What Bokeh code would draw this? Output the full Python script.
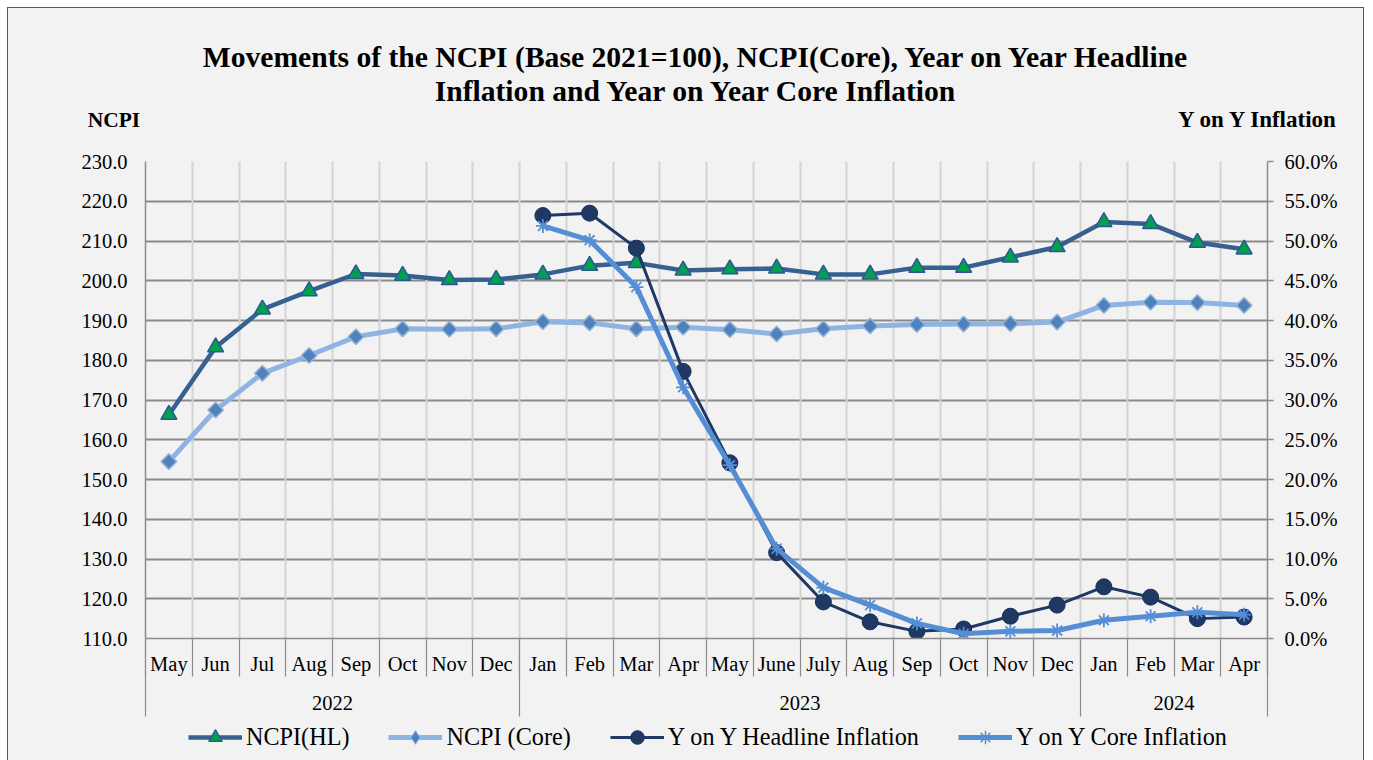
import math
from bokeh.plotting import figure
from bokeh.layouts import column
from bokeh.models import (Range1d, LinearAxis, FixedTicker, Grid, Legend, LegendItem, Div)
from bokeh.embed import file_html
from bokeh.resources import INLINE

# ---------------- data ----------------
months = ["May", "Jun", "Jul", "Aug", "Sep", "Oct", "Nov", "Dec",
          "Jan", "Feb", "Mar", "Apr", "May", "June", "July", "Aug", "Sep", "Oct", "Nov", "Dec",
          "Jan", "Feb", "Mar", "Apr"]
years = ["2022", "2023", "2024"]
year_counts = [8, 12, 4]

ncpi_hl = [166.3, 183.3, 192.8, 197.4, 201.7, 201.3, 200.2, 200.3,
           201.6, 203.8, 204.5, 202.6, 202.9, 203.1, 201.6, 201.6, 203.3, 203.3, 205.9, 208.5,
           214.8, 214.3, 209.6, 207.9]
ncpi_core = [154.5, 167.5, 176.7, 181.2, 185.9, 187.9, 187.8, 187.9,
             189.7, 189.4, 187.9, 188.3, 187.7, 186.6, 187.9, 188.6, 189.0, 189.1, 189.2, 189.6,
             193.8, 194.6, 194.5, 193.8]
NA = float("nan")
yoy_hl = [NA, NA, NA, NA, NA, NA, NA, NA,
          53.2, 53.5, 49.1, 33.6, 22.1, 10.8, 4.6, 2.1, 0.9, 1.2, 2.8, 4.2,
          6.5, 5.2, 2.5, 2.7]
yoy_core = [NA, NA, NA, NA, NA, NA, NA, NA,
            51.9, 50.1, 44.2, 31.6, 21.8, 11.3, 6.4, 4.2, 1.9, 0.6, 0.9, 1.0,
            2.3, 2.8, 3.3, 3.0]

series_names = ["NCPI(HL)", "NCPI (Core)", "Y on Y Headline Inflation", "Y on Y Core Inflation"]

left_ticks = [110, 120, 130, 140, 150, 160, 170, 180, 190, 200, 210, 220, 230]
right_ticks = [0, 5, 10, 15, 20, 25, 30, 35, 40, 45, 50, 55, 60]

title_line1 = "Movements of the NCPI (Base 2021=100), NCPI(Core), Year on Year Headline"
title_line2 = "Inflation and Year on Year Core Inflation"
left_title = "NCPI"
right_title = "Y on Y Inflation"

# ---------------- derived positions ----------------
n = len(months)
xs = list(range(n))
bounds = [i - 0.5 for i in range(n + 1)]
gb = [-0.5]
for c in year_counts:
    gb.append(gb[-1] + c)
gcenters = [(gb[i] + gb[i + 1]) / 2 for i in range(len(years))]

FONT = "Liberation Serif"
BG = "#F2F2F2"
AX = "#8C8C8C"
W = 1355

# ---------------- styles ----------------
line_styles = [dict(line_color="#36608F", line_width=4.5),
               dict(line_color="#8EB4E3", line_width=5),
               dict(line_color="#1F3864", line_width=3),
               dict(line_color="#558ED5", line_width=5)]
marker_styles = [dict(marker="triangle", size=16, fill_color="#00A04E", line_color="#2F5597", line_width=1.5),
                 dict(marker="square", angle=math.pi / 4, size=11, fill_color="#4F81BD",
                      line_color="#95B3D7", line_width=1.5),
                 dict(marker="circle", size=16, fill_color="#1F3864", line_color="#17305A", line_width=1),
                 dict(marker="asterisk", size=14, line_color="#558ED5", line_width=1.8)]
legend_markers = [dict(marker="triangle", fill_color="#00A04E", line_color="#2F5597", line_width=1.2),
                  dict(marker="diamond", fill_color="#4F81BD", line_color="#95B3D7", line_width=1),
                  dict(marker="circle", fill_color="#1F3864", line_color="#17305A", line_width=1),
                  dict(marker="asterisk", line_color="#558ED5", line_width=1.5)]

# ---------------- header (title + axis titles) ----------------
top_html = (
    f'<div style="position:relative;width:{W}px;height:141px;font-family:\'{FONT}\',serif;color:#000;">'
    f'<div style="position:absolute;left:19px;top:31.7px;width:1336px;text-align:center;font-weight:bold;'
    f'font-size:29.6px;line-height:34px;white-space:nowrap;">{title_line1}<br>{title_line2}</div>'
    f'<div style="position:absolute;left:79.7px;top:101.5px;font-weight:bold;font-size:21.5px;'
    f'line-height:21px;white-space:nowrap;">{left_title}</div>'
    f'<div style="position:absolute;left:1170px;top:100.7px;font-weight:bold;font-size:23px;'
    f'line-height:21px;white-space:nowrap;">{right_title}</div>'
    '</div>')
header = Div(text=top_html, width=W, height=141, margin=0)

# ---------------- main plot ----------------
p = figure(width=W, height=571, output_backend="svg", toolbar_location=None,
           title=None, x_axis_type=None, y_axis_type=None,
           x_range=Range1d(-0.5, n - 0.5), y_range=Range1d(110, 230),
           min_border_left=137, min_border_right=96, min_border_top=12, min_border_bottom=82)
p.extra_y_ranges = {"pct": Range1d(0, 60)}
p.background_fill_color = BG
p.border_fill_color = BG
p.outline_line_color = None

p.add_layout(Grid(dimension=1, ticker=FixedTicker(ticks=left_ticks),
                  grid_line_color="#8A8A8A", grid_line_width=2))
p.add_layout(Grid(dimension=0, ticker=FixedTicker(ticks=bounds),
                  grid_line_color="#D3D3D3", grid_line_width=2))


def style_axis(ax):
    ax.major_label_text_font = FONT
    ax.major_label_text_font_size = "20.5px"
    ax.major_label_text_color = "#000000"
    ax.minor_tick_line_color = AX
    ax.major_tick_line_color = AX


ya = LinearAxis(ticker=FixedTicker(ticks=left_ticks),
                major_label_overrides={t: f"{t:.1f}" for t in left_ticks})
style_axis(ya)
ya.major_tick_out = 0
ya.major_tick_in = 0
ya.minor_tick_out = 0
ya.minor_tick_in = 0
ya.axis_line_color = AX
ya.axis_line_width = 1.5
ya.major_label_standoff = 18
p.add_layout(ya, "left")

yb = LinearAxis(y_range_name="pct", ticker=FixedTicker(ticks=right_ticks),
                major_label_overrides={t: f"{t:.1f}%" for t in right_ticks})
style_axis(yb)
yb.major_tick_out = 6
yb.major_tick_in = 0
yb.minor_tick_out = 0
yb.minor_tick_in = 0
yb.major_tick_line_width = 1.5
yb.axis_line_color = AX
yb.axis_line_width = 1.5
yb.major_label_standoff = 11
p.add_layout(yb, "right")

xa = LinearAxis(ticker=FixedTicker(ticks=xs, minor_ticks=bounds),
                major_label_overrides={i: m for i, m in zip(xs, months)})
style_axis(xa)
xa.major_tick_out = 0
xa.major_tick_in = 0
xa.minor_tick_out = 38
xa.minor_tick_in = 0
xa.minor_tick_line_width = 1.2
xa.axis_line_color = AX
xa.axis_line_width = 1.5
xa.major_label_standoff = -24
p.add_layout(xa, "below")

xg = LinearAxis(ticker=FixedTicker(ticks=gcenters, minor_ticks=gb),
                major_label_overrides={c: y for c, y in zip(gcenters, years)})
style_axis(xg)
xg.major_tick_out = 0
xg.major_tick_in = 0
xg.minor_tick_in = 38
xg.minor_tick_out = 39
xg.minor_tick_line_width = 1.2
xg.axis_line_color = None
xg.major_label_standoff = -21
p.add_layout(xg, "below")

p.line(xs, ncpi_hl, **line_styles[0])
p.scatter(xs, ncpi_hl, **marker_styles[0])
p.line(xs, ncpi_core, **line_styles[1])
p.scatter(xs, ncpi_core, **marker_styles[1])
p.line(xs, yoy_hl, y_range_name="pct", **line_styles[2])
p.scatter(xs, yoy_hl, y_range_name="pct", **marker_styles[2])
p.line(xs, yoy_core, y_range_name="pct", **line_styles[3])
p.scatter(xs, yoy_core, y_range_name="pct", **marker_styles[3])

# ---------------- legend strip ----------------
pl = figure(width=W, height=40, output_backend="svg", toolbar_location=None,
            title=None, x_axis_type=None, y_axis_type=None,
            x_range=Range1d(0, 1), y_range=Range1d(0, 1), min_border=0)
pl.background_fill_color = BG
pl.border_fill_color = BG
pl.outline_line_color = None
items = []
for name, ls, ms in zip(series_names, line_styles, legend_markers):
    lr = pl.line([NA], [NA], **ls)
    mr = pl.scatter([NA], [NA], **ms)
    items.append(LegendItem(label=name, renderers=[lr, mr]))
legend = Legend(items=items, orientation="horizontal", location=(43, 6),
                glyph_width=54, glyph_height=34, spacing=39, padding=0, margin=0,
                label_standoff=4,
                label_text_font=FONT, label_text_font_size="24.2px", label_text_color="#000000",
                background_fill_alpha=0, border_line_alpha=0)
pl.add_layout(legend)

root = column(header, p, pl, spacing=0,
              styles={"margin-left": "7px", "margin-top": "7px",
                      "border-left": "1px solid #595959", "border-top": "1px solid #595959",
                      "border-right": "1px solid #595959", "background-color": BG})

open("out.html", "w").write(file_html(root, INLINE))
